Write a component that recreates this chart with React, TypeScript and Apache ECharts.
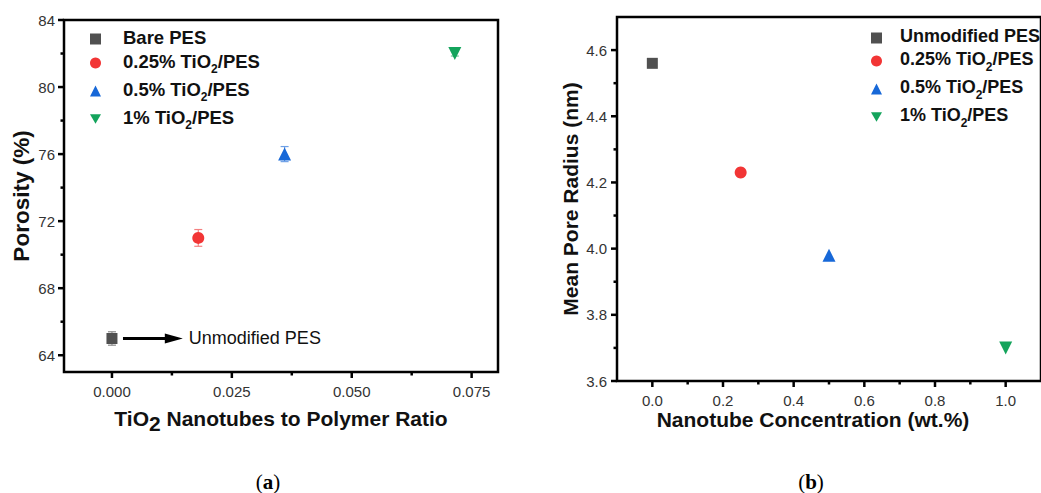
import React, { useEffect, useRef } from "react";
import * as echarts from "echarts";

// (a) porosity vs TiO2 nanotube-to-polymer ratio
const namesA = ["Bare PES", "0.25% TiO2/PES", "0.5% TiO2/PES", "1% TiO2/PES"];
const ratioA = [0, 0.018, 0.036, 0.0715];
const porosityA = [65, 71, 76, 82];
const porosityErrA = [0.4, 0.5, 0.45, 0.15];

// (b) mean pore radius vs nanotube concentration
const namesB = ["Unmodified PES", "0.25% TiO2/PES", "0.5% TiO2/PES", "1% TiO2/PES"];
const concB = [0, 0.25, 0.5, 1.0];
const radiusB = [4.56, 4.23, 3.98, 3.7];

// axis ranges and tick positions
const rangeAX = [-0.01, 0.0805];
const rangeAY = [63, 84];
const rangeBX = [-0.1, 1.1];
const rangeBY = [3.6, 4.7];
const ticksAX = [0, 0.025, 0.05, 0.075];
const minorAX = [0.0125, 0.0375, 0.0625];
const ticksAY = [64, 68, 72, 76, 80, 84];
const minorAY = [66, 70, 74, 78, 82];
const ticksBX = [0, 0.2, 0.4, 0.6, 0.8, 1.0];
const minorBX = [0.1, 0.3, 0.5, 0.7, 0.9];
const ticksBY = [3.6, 3.8, 4.0, 4.2, 4.4, 4.6];
const minorBY = [3.7, 3.9, 4.1, 4.3, 4.5];

const colors = ["#505050", "#f23535", "#1768d8", "#14a45c"];
const errColors = ["#8a8a8a", "#f48080", "#6ea0e6", "#6cc795"];
const DOWN_TRI = "path://M0,0L10,0L5,8.66Z";
const symbols = ["rect", "circle", "triangle", DOWN_TRI];
const symbolSizes = [11, 12, 13, 13];

const SANS = "'Liberation Sans', Arial, sans-serif";
const SERIF = "'Liberation Serif', 'DejaVu Serif', serif";

const richName = (name: string) =>
  "{g| }" +
  (name.includes("TiO2")
    ? name
        .split("TiO2")
        .map((p) => (p ? `{t|${p}}` : ""))
        .join("{t|TiO}{s|2}")
    : `{t|${name}}`);

const legendRich = (gap: number, size: number) => ({
  g: { width: gap, fontSize: size, lineHeight: 22, verticalAlign: "top" },
  t: { fontFamily: SANS, fontSize: size, fontWeight: "bold", color: "#111", lineHeight: 22, verticalAlign: "top" },
  s: { fontFamily: SANS, fontSize: 12, fontWeight: "bold", color: "#111", lineHeight: 12, padding: [11, 0, 0, 0], verticalAlign: "top" },
});

const tickLabel = { fontFamily: SANS, fontSize: 15, color: "#333" };
const titleStyle = { fontFamily: SANS, fontSize: 21, fontWeight: "bold", color: "#111" };

function valueAxis(
  gridIndex: number,
  range: number[],
  ticks: number[],
  fmt: (v: number) => string,
  margin: number,
  extra: any
) {
  return {
    type: "value",
    gridIndex,
    min: range[0],
    max: range[1],
    splitLine: { show: false },
    axisLine: { show: false, onZero: false },
    axisTick: { show: false },
    axisLabel: { show: true, customValues: ticks, margin, formatter: fmt, ...tickLabel },
    nameMoveOverlap: false,
    ...extra,
  };
}

// tick rows: [x, y, direction (0 = bottom axis, 1 = left axis), length]
function tickRows(rx: number[], ry: number[], mx: number[], nx: number[], my: number[], ny: number[]) {
  return [
    ...mx.map((v) => [v, ry[0], 0, 6]),
    ...nx.map((v) => [v, ry[0], 0, 3.5]),
    ...my.map((v) => [rx[0], v, 1, 6]),
    ...ny.map((v) => [rx[0], v, 1, 3.5]),
  ];
}

// outward tick marks along the bottom and left axes
function tickSeries(axisIndex: number, rows: number[][]) {
  return {
    type: "custom",
    name: `ticks${axisIndex}`,
    xAxisIndex: axisIndex,
    yAxisIndex: axisIndex,
    clip: false,
    silent: true,
    z: 5,
    encode: { x: 0, y: 1 },
    data: rows,
    renderItem: (_params: any, api: any) => {
      const p = api.coord([api.value(0), api.value(1)]);
      const dir = api.value(2);
      const len = api.value(3);
      const shape =
        dir === 0
          ? { x1: p[0], y1: p[1], x2: p[0], y2: p[1] + len }
          : { x1: p[0] - len, y1: p[1], x2: p[0], y2: p[1] };
      return { type: "line", shape, style: { stroke: "#000", lineWidth: 2.5 } };
    },
  };
}

export default function App() {
  const ref = useRef<HTMLDivElement>(null);

  useEffect(() => {
    if (!ref.current) return;
    const chart = echarts.init(ref.current, undefined, { renderer: "svg" });

    const scatterA: any[] = namesA.map((name, i) => ({
      type: "scatter",
      name,
      xAxisIndex: 0,
      yAxisIndex: 0,
      symbol: symbols[i],
      symbolSize: symbolSizes[i],
      itemStyle: { color: colors[i], opacity: 1 },
      data: [[ratioA[i], porosityA[i]]],
      z: 3,
    }));

    // arrow pointing from the bare membrane to its label
    scatterA[0].markLine = {
      silent: true,
      animation: false,
      symbol: ["none", "none"],
      lineStyle: { color: "#000", width: 3, type: "solid" },
      label: { show: false },
      data: [[{ coord: [0.0023, porosityA[0]] }, { coord: [0.0118, porosityA[0]] }]],
    };
    scatterA[0].markPoint = {
      silent: true,
      animation: false,
      symbol: "triangle",
      symbolRotate: -90,
      symbolSize: [10, 18],
      itemStyle: { color: "#000" },
      label: {
        show: true,
        position: "right",
        distance: 6,
        formatter: "Unmodified PES",
        fontFamily: SANS,
        fontSize: 18,
        color: "#111",
      },
      data: [{ coord: [0.0129, porosityA[0]] }],
    };

    const errorA = {
      type: "custom",
      name: "errA",
      xAxisIndex: 0,
      yAxisIndex: 0,
      z: 2,
      encode: { x: 0, y: 1 },
      data: ratioA.map((x, i) => [x, porosityA[i], porosityErrA[i]]),
      renderItem: (params: any, api: any) => {
        const x = api.value(0);
        const y = api.value(1);
        const e = api.value(2);
        const top = api.coord([x, y + e]);
        const bot = api.coord([x, y - e]);
        const c = errColors[params.dataIndex];
        const w = 4;
        const st = { stroke: c, lineWidth: 1.2 };
        return {
          type: "group",
          children: [
            { type: "line", shape: { x1: top[0], y1: top[1], x2: bot[0], y2: bot[1] }, style: st },
            { type: "line", shape: { x1: top[0] - w, y1: top[1], x2: top[0] + w, y2: top[1] }, style: st },
            { type: "line", shape: { x1: bot[0] - w, y1: bot[1], x2: bot[0] + w, y2: bot[1] }, style: st },
          ],
        };
      },
    };

    const scatterB = namesB.map((name, i) => ({
      type: "scatter",
      name,
      xAxisIndex: 1,
      yAxisIndex: 1,
      symbol: symbols[i],
      symbolSize: symbolSizes[i],
      itemStyle: { color: colors[i], opacity: 1 },
      data: [[concB[i], radiusB[i]]],
      z: 3,
    }));

    const caption = (letter: string, x: number) => ({
      type: "text",
      x,
      y: 482,
      style: {
        text: `{p|(}{b|${letter}}{p|)}`,
        align: "center",
        verticalAlign: "middle",
        rich: {
          p: { fontFamily: SERIF, fontSize: 21, lineHeight: 20, color: "#111" },
          b: { fontFamily: SERIF, fontSize: 21, lineHeight: 20, fontWeight: "bold", color: "#111" },
        },
      },
    });

    chart.setOption({
      animation: false,
      backgroundColor: "#fff",
      grid: [
        { left: 64, top: 20, width: 434, height: 352, show: true, borderColor: "#000", borderWidth: 2.5, backgroundColor: "transparent" },
        { left: 617, top: 17, width: 438, height: 364, show: true, borderColor: "#000", borderWidth: 2.5, backgroundColor: "transparent" },
      ],
      legend: [
        {
          orient: "vertical",
          left: 85,
          top: 23,
          itemWidth: 11,
          itemHeight: 11,
          itemGap: 5,
          selectedMode: false,
          data: namesA,
          formatter: (n: string) => richName(n),
          textStyle: { rich: legendRich(17, 18.5) },
        },
        {
          orient: "vertical",
          left: 866,
          top: 22,
          itemWidth: 11,
          itemHeight: 11,
          itemGap: 5,
          selectedMode: false,
          data: namesB,
          formatter: (n: string) => richName(n),
          textStyle: { rich: legendRich(13, 18) },
        },
      ],
      xAxis: [
        valueAxis(0, rangeAX, ticksAX, (v) => v.toFixed(3), 12, {
          position: "bottom",
          name: "{t|TiO}{s|2}{t| Nanotubes to Polymer Ratio}",
          nameLocation: "middle",
          nameGap: 36,
          nameTextStyle: {
            rich: {
              t: { ...titleStyle, lineHeight: 24, verticalAlign: "top" },
              s: { ...titleStyle, fontSize: 21, lineHeight: 24, padding: [5, 0, 0, 0], verticalAlign: "top" },
            },
          },
        }),
        valueAxis(1, rangeBX, ticksBX, (v) => v.toFixed(1), 12, {
          position: "bottom",
          name: "Nanotube Concentration (wt.%)",
          nameLocation: "middle",
          nameGap: 28,
          nameTextStyle: { ...titleStyle, padding: [0, 32, 0, 0] },
        }),
      ],
      yAxis: [
        valueAxis(0, rangeAY, ticksAY, (v) => String(Math.round(v)), 9, {
          position: "left",
          name: "Porosity (%)",
          nameLocation: "middle",
          nameGap: 31,
          nameTextStyle: { ...titleStyle, fontSize: 22.5 },
        }),
        valueAxis(1, rangeBY, ticksBY, (v) => v.toFixed(1), 10, {
          position: "left",
          name: "Mean Pore Radius (nm)",
          nameLocation: "middle",
          nameGap: 36,
          nameTextStyle: titleStyle,
        }),
      ],
      series: [
        tickSeries(0, tickRows(rangeAX, rangeAY, ticksAX, minorAX, ticksAY, minorAY)),
        tickSeries(1, tickRows(rangeBX, rangeBY, ticksBX, minorBX, ticksBY, minorBY)),
        errorA,
        ...scatterA,
        ...scatterB,
      ],
      graphic: [caption("a", 268), caption("b", 811)],
    });

    return () => chart.dispose();
  }, []);

  return (
    <div
      ref={ref}
      style={{ position: "fixed", left: 0, top: 0, width: 1041, height: 493, background: "#fff" }}
    />
  );
}
